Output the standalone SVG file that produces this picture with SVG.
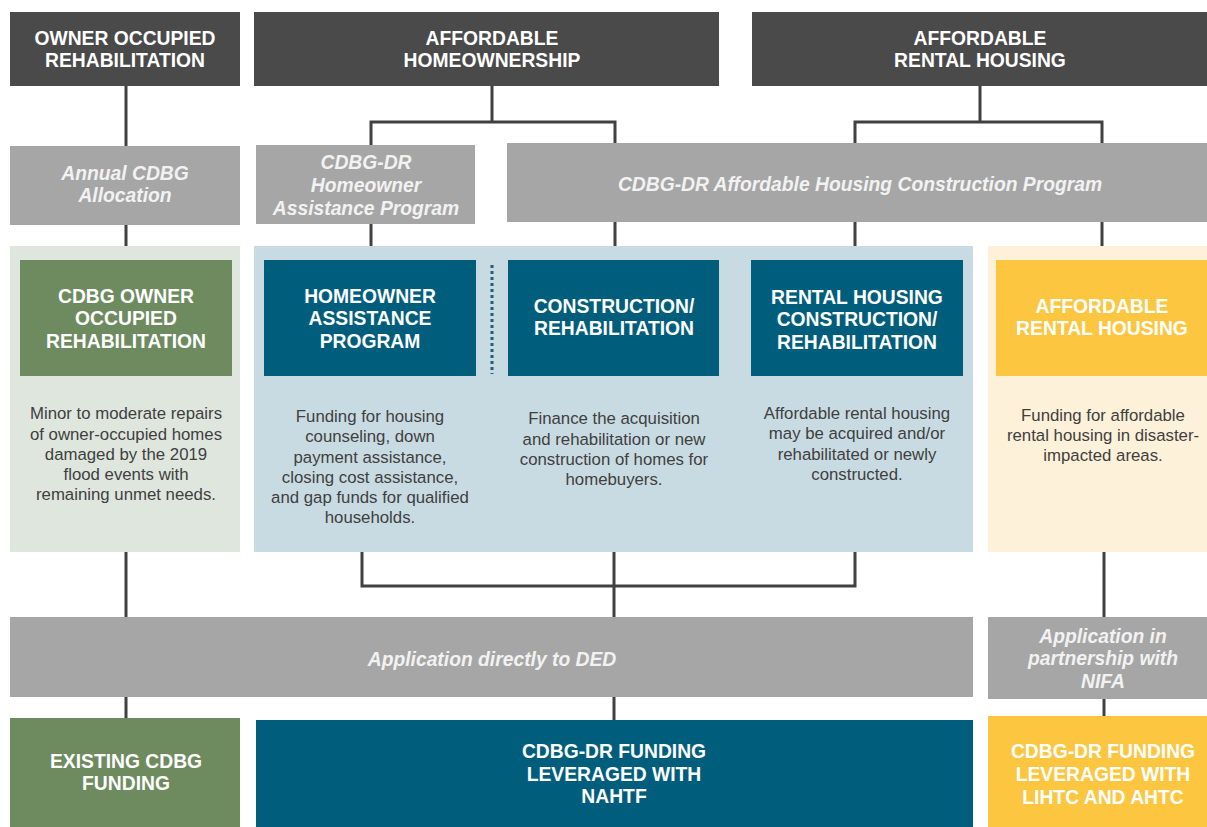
<svg xmlns="http://www.w3.org/2000/svg" width="1207" height="827" viewBox="0 0 1207 827">
<style>
.hdr{fill:#4a4a4a}
.gry{fill:#a6a6a6}
.grn{fill:#6e8b60}
.blu{fill:#005e7c}
.yel{fill:#fcc640}
.lgrn{fill:#dfe6de}
.lblu{fill:#c9dbe2}
.lyel{fill:#fef1d9}
.t{font-family:"Liberation Sans",Arial,sans-serif;font-weight:bold;font-size:19.3px;fill:#ffffff;text-anchor:middle}
.i{font-family:"Liberation Sans",Arial,sans-serif;font-weight:bold;font-style:italic;font-size:19.3px;fill:#f2f2f2;text-anchor:middle}
.d{font-family:"Liberation Sans",Arial,sans-serif;font-size:16.8px;fill:#404040;text-anchor:middle}
.c{stroke:#404040;stroke-width:3;fill:none}
</style>
<rect width="1207" height="827" fill="#ffffff"/>
<g id="connectors">
<path class="c" d="M126 86V146"/>
<path class="c" d="M492 86V122M371 146V122H615V143"/>
<path class="c" d="M980 86V122M855 143V122H1102V143"/>
<path class="c" d="M126 225V246M371 224V246M615 222V246M855 222V246M1102 222V246"/>
<path class="c" d="M126 552V617"/>
<path class="c" d="M362 552V586H855V552M614 552V617"/>
<path class="c" d="M1104 552V617"/>
<path class="c" d="M126 697V718M614 697V720M1104 699V716"/>
</g>
<g id="hdr-owner">
<rect class="hdr" x="10" y="12" width="230" height="74"/>
<text class="t" x="125" y="45">OWNER OCCUPIED</text>
<text class="t" x="125" y="67">REHABILITATION</text>
</g>
<g id="hdr-homeownership">
<rect class="hdr" x="254" y="12" width="465" height="74"/>
<text class="t" x="492" y="45">AFFORDABLE</text>
<text class="t" x="492" y="67">HOMEOWNERSHIP</text>
</g>
<g id="hdr-rental">
<rect class="hdr" x="752" y="12" width="455" height="74"/>
<text class="t" x="980" y="45">AFFORDABLE</text>
<text class="t" x="980" y="67">RENTAL HOUSING</text>
</g>
<g id="annual-cdbg">
<rect class="gry" x="10" y="146" width="230" height="79"/>
<text class="i" x="125" y="180">Annual CDBG</text>
<text class="i" x="125" y="202">Allocation</text>
</g>
<g id="dr-homeowner">
<rect class="gry" x="256" y="145" width="219" height="79"/>
<text class="i" x="366" y="169">CDBG-DR</text>
<text class="i" x="366" y="192">Homeowner</text>
<text class="i" x="366" y="215">Assistance Program</text>
</g>
<g id="dr-construction">
<rect class="gry" x="507" y="143" width="700" height="79"/>
<text class="i" x="860" y="191">CDBG-DR Affordable Housing Construction Program</text>
</g>
<g id="panel-green">
<rect class="lgrn" x="10" y="246" width="230" height="306"/>
</g>
<g id="panel-blue">
<rect class="lblu" x="254" y="246" width="719" height="306"/>
</g>
<g id="panel-yellow">
<rect class="lyel" x="988" y="246" width="219" height="306"/>
</g>
<g id="cdbg-owner">
<rect class="grn" x="20" y="260" width="212" height="116"/>
<text class="t" x="126" y="303">CDBG OWNER</text>
<text class="t" x="126" y="325">OCCUPIED</text>
<text class="t" x="126" y="348">REHABILITATION</text>
<text class="d" x="126" y="419">Minor to moderate repairs</text>
<text class="d" x="126" y="440">of owner-occupied homes</text>
<text class="d" x="126" y="460">damaged by the 2019</text>
<text class="d" x="126" y="480">flood events with</text>
<text class="d" x="126" y="500">remaining unmet needs.</text>
</g>
<g id="homeowner-assistance">
<rect class="blu" x="264" y="260" width="212" height="116"/>
<text class="t" x="370" y="303">HOMEOWNER</text>
<text class="t" x="370" y="325">ASSISTANCE</text>
<text class="t" x="370" y="348">PROGRAM</text>
<text class="d" x="370" y="422">Funding for housing</text>
<text class="d" x="370" y="442">counseling, down</text>
<text class="d" x="370" y="463">payment assistance,</text>
<text class="d" x="370" y="483">closing cost assistance,</text>
<text class="d" x="370" y="503">and gap funds for qualified</text>
<text class="d" x="370" y="523">households.</text>
</g>
<path d="M492 265V374" stroke="#1f5f7f" stroke-width="3" stroke-dasharray="3 3" fill="none"/>
<g id="construction-rehab">
<rect class="blu" x="508" y="260" width="211" height="116"/>
<text class="t" x="614" y="313">CONSTRUCTION/</text>
<text class="t" x="614" y="335">REHABILITATION</text>
<text class="d" x="614" y="424">Finance the acquisition</text>
<text class="d" x="614" y="445">and rehabilitation or new</text>
<text class="d" x="614" y="465">construction of homes for</text>
<text class="d" x="614" y="485">homebuyers.</text>
</g>
<g id="rental-construction">
<rect class="blu" x="751" y="260" width="212" height="116"/>
<text class="t" x="857" y="304">RENTAL HOUSING</text>
<text class="t" x="857" y="326">CONSTRUCTION/</text>
<text class="t" x="857" y="349">REHABILITATION</text>
<text class="d" x="857" y="419">Affordable rental housing</text>
<text class="d" x="857" y="439">may be acquired and/or</text>
<text class="d" x="857" y="460">rehabilitated or newly</text>
<text class="d" x="857" y="480">constructed.</text>
</g>
<g id="affordable-rental">
<rect class="yel" x="996" y="260" width="211" height="116"/>
<text class="t" x="1102" y="313">AFFORDABLE</text>
<text class="t" x="1102" y="335">RENTAL HOUSING</text>
<text class="d" x="1103" y="421">Funding for affordable</text>
<text class="d" x="1103" y="441">rental housing in disaster-</text>
<text class="d" x="1103" y="461">impacted areas.</text>
</g>
<g id="app-ded">
<rect class="gry" x="10" y="617" width="963" height="80"/>
<text class="i" x="492" y="666">Application directly to DED</text>
</g>
<g id="app-nifa">
<rect class="gry" x="988" y="617" width="219" height="82"/>
<text class="i" x="1103" y="643">Application in</text>
<text class="i" x="1103" y="665">partnership with</text>
<text class="i" x="1103" y="688">NIFA</text>
</g>
<g id="existing-cdbg">
<rect class="grn" x="10" y="718" width="230" height="109"/>
<text class="t" x="126" y="768">EXISTING CDBG</text>
<text class="t" x="126" y="790">FUNDING</text>
</g>
<g id="dr-nahtf">
<rect class="blu" x="256" y="720" width="717" height="107"/>
<text class="t" x="614" y="758">CDBG-DR FUNDING</text>
<text class="t" x="614" y="781">LEVERAGED WITH</text>
<text class="t" x="614" y="803">NAHTF</text>
</g>
<g id="dr-lihtc">
<rect class="yel" x="988" y="716" width="219" height="111"/>
<text class="t" x="1103" y="758">CDBG-DR FUNDING</text>
<text class="t" x="1103" y="781">LEVERAGED WITH</text>
<text class="t" x="1103" y="804">LIHTC AND AHTC</text>
</g>
</svg>
